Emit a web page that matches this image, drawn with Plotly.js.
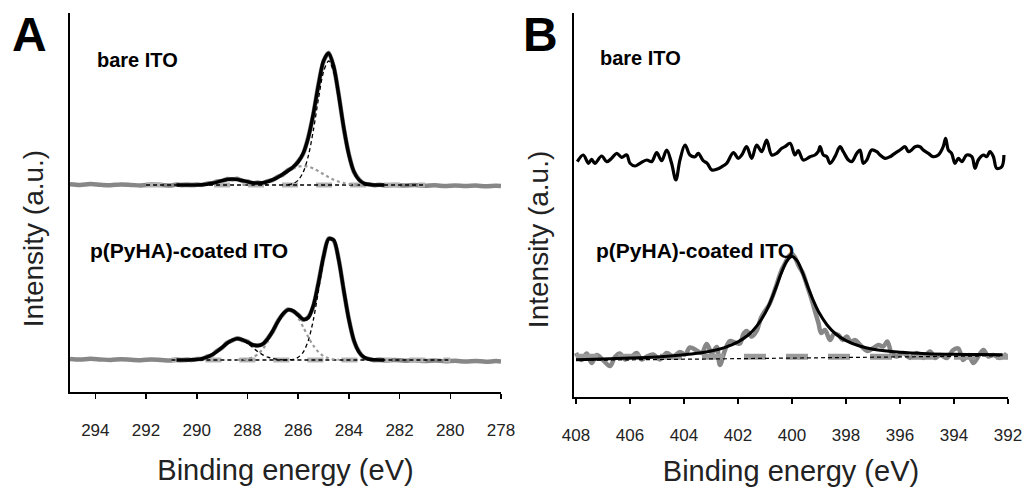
<!DOCTYPE html>
<html>
<head>
<meta charset="utf-8">
<script src="https://cdn.plot.ly/plotly-3.0.1.min.js"></script>
<style>html,body{margin:0;padding:0;background:#fff;}#chart{width:1028px;height:487px;}</style>
</head>
<body>
<div id="chart"></div>
<script>
// ---------- Panel A : C1s ----------
// shared energy grid for fitted curves (eV)
const fitXA = [290.8,290.6,290.4,290.2,290.0,289.8,289.6,289.4,289.2,289.0,288.8,288.6,288.4,288.2,288.0,287.8,287.6,287.4,287.2,287.0,286.8,286.6,286.4,286.2,286.0,285.8,285.6,285.4,285.2,285.0,284.8,284.6,284.4,284.2,284.0,283.8,283.6,283.4,283.2,283.0,282.8,282.6];
// bare ITO envelope
const bareEnvA = [207.0,207.0,207.0,207.0,207.1,207.3,207.8,208.7,209.9,211.4,212.5,213.0,212.5,211.5,210.2,209.2,208.9,209.3,210.4,212.3,214.8,217.9,221.2,225.0,230.1,238.9,254.4,278.4,307.1,331.1,338.8,325.6,296.6,263.9,237.2,220.4,212.1,208.6,207.4,207.1,207.0,207.0];
// p(PyHA)-coated envelope
const coatEnvA = [32.0,32.0,32.1,32.2,32.6,33.4,34.8,37.2,40.6,44.7,48.8,51.9,53.2,52.3,49.9,47.4,46.3,48.0,53.2,61.2,70.4,78.1,82.1,81.2,76.9,72.7,74.4,86.6,109.2,135.6,153.1,152.0,131.9,101.4,72.3,51.5,39.9,34.7,32.7,32.2,32.0,32.0];

// bare ITO components
const bareMainX = [286.4,286.2,286.0,285.8,285.6,285.4,285.2,285.0,284.8,284.6,284.4,284.2,284.0,283.8,283.6,283.4,283.2,283.0];
const bareMainY = [207.4,208.5,211.8,219.9,236.1,261.9,293.3,320.3,331.0,320.3,293.3,261.9,236.1,219.9,211.8,208.5,207.4,207.1];
const bareMidX = [288.2,288.0,287.8,287.6,287.4,287.2,287.0,286.8,286.6,286.4,286.2,286.0,285.8,285.6,285.4,285.2,285.0,284.8,284.6,284.4,284.2,284.0,283.8,283.6,283.4];
const bareMidY = [207.1,207.3,207.5,208.1,209.0,210.3,212.3,214.8,217.8,220.8,223.5,225.3,226.0,225.3,223.5,220.8,217.8,214.8,212.3,210.3,209.0,208.1,207.5,207.3,207.1];
const bareHighX = [290.0,289.8,289.6,289.4,289.2,289.0,288.8,288.6,288.4,288.2,288.0,287.8,287.6,287.4,287.2];
const bareHighY = [207.1,207.3,207.8,208.7,209.9,211.4,212.5,213.0,212.5,211.4,209.9,208.7,207.8,207.3,207.1];

// coated components
const coatMainX = [286.6,286.4,286.2,286.0,285.8,285.6,285.4,285.2,285.0,284.8,284.6,284.4,284.2,284.0,283.8,283.6,283.4,283.2,283.0];
const coatMainY = [32.0,32.2,32.7,34.7,39.9,51.5,72.3,101.3,131.6,151.3,151.3,131.6,101.3,72.3,51.5,39.9,34.7,32.7,32.2];
const coatMidX = [288.4,288.2,288.0,287.8,287.6,287.4,287.2,287.0,286.8,286.6,286.4,286.2,286.0,285.8,285.6,285.4,285.2,285.0,284.8,284.6,284.4];
const coatMidY = [32.2,32.4,33.1,34.7,37.7,42.8,50.4,59.8,69.8,77.9,81.8,80.5,74.2,64.9,54.9,46.3,40.0,36.0,33.8,32.7,32.3];
const coatHighX = [290.4,290.2,290.0,289.8,289.6,289.4,289.2,289.0,288.8,288.6,288.4,288.2,288.0,287.8,287.6,287.4,287.2,287.0,286.8,286.6];
const coatHighY = [32.1,32.2,32.6,33.4,34.8,37.2,40.6,44.7,48.8,51.9,53.0,51.9,48.8,44.7,40.6,37.2,34.8,33.4,32.6,32.2];

// raw data (gray)
const rawXA = [295.0,294.6,294.2,293.8,293.4,293.0,292.6,292.2,291.8,291.4,291.0,290.8,290.6,290.4,290.2,290.0,289.8,289.6,289.4,289.2,289.0,288.8,288.6,288.4,288.2,288.0,287.8,287.6,287.4,287.2,287.0,286.8,286.6,286.4,286.2,286.0,285.8,285.6,285.4,285.2,285.0,284.8,284.6,284.4,284.2,284.0,283.8,283.6,283.4,283.2,283.0,282.8,282.6,282.2,281.8,281.4,281.0,280.6,280.2,279.8,279.4,279.0,278.6,278.2,278.0];
const bareRawA = [207.8,207.0,207.9,207.2,206.7,207.6,207.1,206.5,207.4,207.0,206.6,207.4,206.9,207.5,207.0,207.6,207.1,208.4,208.9,210.5,211.0,213.1,212.6,213.2,211.0,210.6,208.8,209.4,208.9,210.9,212.0,215.3,217.5,221.8,224.6,230.6,238.4,255.0,278.0,307.6,330.6,339.2,325.1,297.0,263.5,237.7,220.0,212.6,208.2,207.8,206.8,207.3,206.6,207.0,206.4,206.9,206.2,206.7,206.0,206.6,205.9,206.4,205.8,206.3,206.0];
const coatRawA = [33.0,32.4,33.2,32.6,32.0,32.8,32.3,31.8,32.5,32.0,31.6,32.4,31.8,32.5,32.0,33.1,33.0,35.3,36.8,41.1,44.3,49.3,51.5,53.7,51.9,50.4,47.0,46.8,47.6,53.7,60.8,70.9,77.7,82.5,80.8,77.3,72.3,74.9,86.2,109.6,135.2,153.5,151.6,132.3,101.0,72.7,51.1,40.3,34.3,33.1,31.8,32.4,31.6,32.0,31.3,31.8,30.9,31.6,30.7,31.2,30.4,31.0,30.3,30.9,30.5];

// backgrounds
const bgBareX = [292.0, 281.0], bgBareY = [207.0, 207.0];
const bgCoatX = [291.0, 280.0], bgCoatY = [32.0, 32.0];

const ticksA = [294,292,290,288,286,284,282,280,278];

// ---------- Panel B : N1s ----------
const bareXB = [407.95,407.73,407.54,407.42,407.30,407.05,406.86,406.68,406.49,406.31,406.12,406.00,405.81,405.63,405.38,405.20,405.01,404.83,404.64,404.46,404.30,404.15,403.96,403.78,403.59,403.47,403.29,403.14,402.97,402.79,402.60,402.42,402.17,401.99,401.86,401.68,401.49,401.31,401.12,400.94,400.75,400.57,400.38,400.26,400.07,399.89,399.77,399.58,399.33,399.15,399.03,398.96,398.84,398.71,398.59,398.41,398.22,398.10,397.91,397.79,397.60,397.48,397.36,397.23,397.05,396.86,396.74,396.56,396.37,396.19,396.00,395.81,395.69,395.57,395.44,395.26,395.14,394.95,394.77,394.58,394.40,394.31,394.21,394.09,393.96,393.84,393.71,393.53,393.34,393.22,393.10,392.91,392.79,392.67,392.54,392.42,392.23,392.15];
const bareYB = [235.3,242.0,233.7,237.7,233.7,241.0,235.3,238.7,243.7,239.7,242.0,233.7,231.0,233.7,237.0,235.3,244.3,236.3,247.0,233.7,217.0,237.0,252.0,242.0,240.3,243.7,236.3,233.7,227.0,227.7,230.3,233.7,244.3,238.7,242.0,250.3,238.7,252.0,245.3,257.0,242.0,243.7,248.7,250.3,253.7,242.0,246.3,237.0,240.3,242.0,245.3,250.3,242.0,240.3,233.7,240.3,250.3,245.3,237.0,235.3,243.7,247.0,233.7,237.0,247.0,245.3,242.0,238.7,240.3,243.7,247.0,250.3,245.3,247.0,250.3,250.3,247.0,243.7,240.3,242.0,250.3,258.7,247.0,243.7,233.7,238.7,235.3,242.0,240.3,228.7,237.0,242.0,240.3,245.3,240.3,228.7,230.3,242.0];

const fitXB = [408,407,406,405,404,403.5,403,402.5,402,401.6,401.3,401,400.8,400.6,400.4,400.2,400.0,399.8,399.6,399.4,399.2,399.0,398.7,398.4,398,397.5,397,396,395,394,393,392.2];
const fitYB = [37.3,38.0,38.9,40.1,42.2,43.7,46.0,49.4,55.1,62.5,71.2,83.8,95.2,108.9,123.6,135.6,140.5,135.8,123.8,109.3,95.8,84.4,72.0,63.5,56.3,51.0,47.8,44.7,43.3,42.7,42.4,42.3];

const rawXB = [408.0,407.8,407.6,407.42,407.23,407.0,406.74,406.56,406.37,406.19,405.94,405.75,405.57,405.38,405.14,404.89,404.64,404.4,404.15,403.96,403.78,403.53,403.34,403.16,402.97,402.79,402.67,402.48,402.3,402.11,401.93,401.8,401.68,401.49,401.31,401.15,401.0,400.85,400.7,400.55,400.4,400.25,400.12,400.0,399.9,399.75,399.6,399.45,399.3,399.15,399.02,398.92,398.78,398.59,398.45,398.28,398.12,397.97,397.82,397.67,397.42,397.2,396.99,396.8,396.62,396.47,396.31,396.12,395.88,395.63,395.38,395.14,394.89,394.7,394.52,394.27,394.03,393.84,393.66,393.47,393.28,393.1,392.91,392.73,392.54,392.3,392.05];
const rawYB = [44,37,43.5,34,42,37,31,40,43.5,37.5,40.5,44,37.5,40.5,42.5,37.5,44,40.5,45,42.5,49.5,46.5,44,53,44,50,32,47,56,54.5,53.5,63,66,60.5,66,79,86,92,102,114,126,134,141,143,140,131,124,112,100,86,74,64,67,57,63,62,57,60.5,55,57,50.5,46,49,52,50.5,55.5,44,40.5,44,39,44,39,45.5,39,42,39,47,48.5,37,42,34,40.5,47,40.5,42,39,43.5];

const bgFlatXB = [408, 392], bgFlatYB = [40.3, 40.3];
const bgFitXB = [408, 392.2], bgFitYB = [36.6, 41.2];

const ticksB = [408,406,404,402,400,398,396,394,392];

// ---------- traces ----------
const GRAY = '#878787';
function ln(x, y, xa, ya, color, width, dash, shape, smooth) {
  return {x: x, y: y, xaxis: xa, yaxis: ya, type: 'scatter', mode: 'lines',
          line: {color: color, width: width, dash: dash || 'solid', shape: shape || 'spline', smoothing: smooth || 0.8},
          hoverinfo: 'skip', showlegend: false};
}
const traces = [
  // panel A, bare
  ln(rawXA, bareRawA, 'x', 'y', GRAY, 4.5),
  ln(bgBareX, bgBareY, 'x', 'y', '#b3b3b3', 5, '16px,18px', 'linear'),
  ln(bgBareX, bgBareY, 'x', 'y', '#000', 1.3, '4px,3px', 'linear'),
  ln(bareMidX, bareMidY, 'x', 'y', '#9a9a9a', 2.2, 'dot'),
  ln(bareHighX, bareHighY, 'x', 'y', '#000', 1.3, '4px,3px'),
  ln(bareMainX, bareMainY, 'x', 'y', '#000', 1.3, '4px,3px'),
  ln(fitXA, bareEnvA, 'x', 'y', '#000', 3.5),
  // panel A, coated
  ln(rawXA, coatRawA, 'x', 'y', GRAY, 4.5),
  ln(bgCoatX, bgCoatY, 'x', 'y', '#b3b3b3', 5, '16px,18px', 'linear'),
  ln(bgCoatX, bgCoatY, 'x', 'y', '#000', 1.3, '4px,3px', 'linear'),
  ln(coatMidX, coatMidY, 'x', 'y', '#9a9a9a', 2.2, 'dot'),
  ln(coatHighX, coatHighY, 'x', 'y', '#000', 1.3, '4px,3px'),
  ln(coatMainX, coatMainY, 'x', 'y', '#000', 1.3, '4px,3px'),
  ln(fitXA, coatEnvA, 'x', 'y', '#000', 3.5),
  // panel B
  ln(bareXB, bareYB, 'x2', 'y2', '#000', 3.2, 'solid', 'spline', 1.0),
  ln(rawXB, rawYB, 'x2', 'y2', GRAY, 4.5, 'solid', 'spline', 1.0),
  ln(bgFlatXB, bgFlatYB, 'x2', 'y2', '#9a9a9a', 6, '22px,20px', 'linear'),
  ln(bgFitXB, bgFitYB, 'x2', 'y2', '#000', 1.2, '4px,3px', 'linear'),
  ln(fitXB, fitYB, 'x2', 'y2', '#000', 3)
];

const FONT = 'Liberation Sans, Arial, sans-serif';
function xax(domain, range, ticks, anchor) {
  return {domain: domain, range: range, anchor: anchor, showline: true, linecolor: '#000', linewidth: 2,
          ticks: 'outside', ticklen: 5, tickwidth: 1.5, tickcolor: '#000', tickvals: ticks,
          ticktext: ticks.map(String), ticklabelstandoff: 17, showgrid: false, zeroline: false,
          tickfont: {family: FONT, size: 17, color: '#222'},
          title: {text: 'Binding energy (eV)', font: {family: FONT, size: 29, color: '#222'}, standoff: 20}};
}
function yax(domain, range, anchor) {
  return {domain: domain, range: range, anchor: anchor, showline: true, linecolor: '#000', linewidth: 2,
          ticks: '', showticklabels: false, showgrid: false, zeroline: false};
}
const ann = (text, x, y, xref, yref, size, xanchor, angle, color) => ({text: text, x: x, y: y, xref: xref, yref: yref,
  showarrow: false, xanchor: xanchor || 'left', yanchor: 'middle', textangle: angle || 0,
  font: {family: FONT, size: size, color: color || '#000'}});

const layout = {
  width: 1028, height: 487,
  margin: {l: 70, r: 20, t: 13, b: 90},
  paper_bgcolor: '#fff', plot_bgcolor: '#fff',
  showlegend: false, hovermode: false,
  xaxis: xax([0, 0.4595], [295, 278], ticksA, 'y'),
  yaxis: yax([0.013, 1], [0, 379], 'x'),
  xaxis2: xax([0.5373, 1], [408.074, 392], ticksB, 'y2'),
  yaxis2: yax([0, 1], [0, 384], 'x2'),
  annotations: [
    ann('<b>A</b>', -0.0437, 0.943, 'paper', 'paper', 48, 'center'),
    ann('<b>B</b>', 0.502, 0.943, 'paper', 'paper', 48, 'center'),
    ann('Intensity (a.u.)', -0.0394, 0.411, 'paper', 'paper', 28, 'center', -90, '#222'),
    ann('Intensity (a.u.)', 0.4989, 0.411, 'paper', 'paper', 28, 'center', -90, '#222'),
    ann('<b>bare ITO</b>', 294.0, 332, 'x', 'y', 20),
    ann('<b>p(PyHA)-coated ITO</b>', 294.3, 142, 'x', 'y', 21),
    ann('<b>bare ITO</b>', 407.19, 339, 'x2', 'y2', 20),
    ann('<b>p(PyHA)-coated ITO</b>', 407.33, 147, 'x2', 'y2', 21)
  ]
};

Plotly.newPlot('chart', traces, layout, {staticPlot: true, displayModeBar: false});
</script>
</body>
</html>
